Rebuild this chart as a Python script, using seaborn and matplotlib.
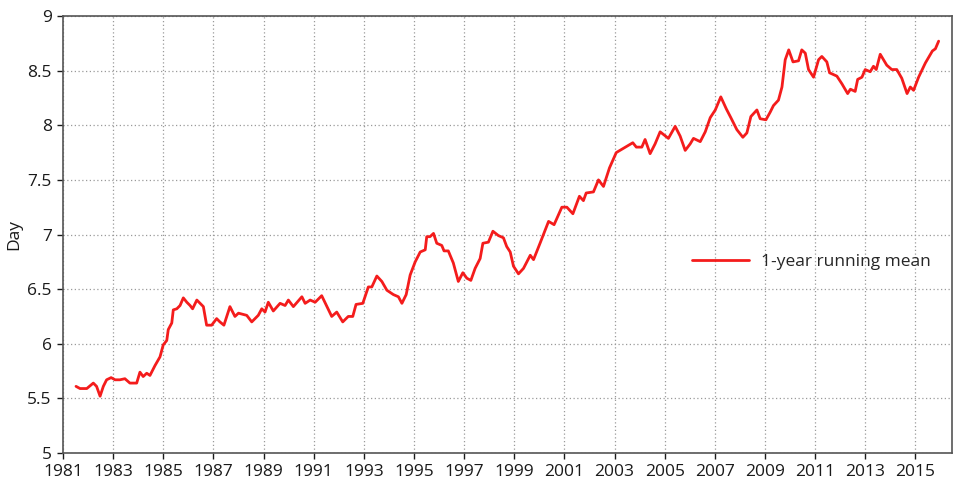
import numpy as np
import pandas as pd
import matplotlib
matplotlib.use("Agg")
import matplotlib.pyplot as plt
import seaborn as sns

# ─── Data ───────────────────────────────────────────────────────────────────
years = [
    1981.52, 1981.68, 1981.95, 1982.21, 1982.34, 1982.48, 1982.61, 1982.74, 1982.92, 1983.08,
    1983.27, 1983.47, 1983.67, 1983.94, 1984.07, 1984.20, 1984.34, 1984.47, 1984.67, 1984.87,
    1985.00, 1985.14, 1985.20, 1985.34, 1985.40, 1985.54, 1985.67, 1985.80, 1985.94, 1986.07,
    1986.17, 1986.34, 1986.47, 1986.60, 1986.73, 1986.93, 1987.13, 1987.26, 1987.42, 1987.66,
    1987.86, 1988.00, 1988.33, 1988.53, 1988.79, 1988.93, 1989.06, 1989.19, 1989.39, 1989.66,
    1989.86, 1989.99, 1990.19, 1990.53, 1990.66, 1990.86, 1991.06, 1991.32, 1991.72, 1991.92,
    1992.16, 1992.38, 1992.56, 1992.69, 1992.96, 1993.18, 1993.32, 1993.52, 1993.72, 1993.92,
    1994.18, 1994.38, 1994.52, 1994.69, 1994.85, 1995.05, 1995.25, 1995.45, 1995.51, 1995.64,
    1995.78, 1995.91, 1996.11, 1996.20, 1996.37, 1996.57, 1996.77, 1996.95, 1997.11, 1997.27,
    1997.44, 1997.64, 1997.75, 1997.97, 1998.15, 1998.37, 1998.57, 1998.70, 1998.84, 1998.97,
    1999.17, 1999.37, 1999.64, 1999.77, 2000.03, 2000.37, 2000.59, 2000.90, 2001.10, 2001.34,
    2001.60, 2001.76, 2001.87, 2002.16, 2002.36, 2002.56, 2002.80, 2003.07, 2003.36, 2003.73,
    2003.87, 2004.09, 2004.22, 2004.42, 2004.62, 2004.82, 2005.15, 2005.42, 2005.62, 2005.82,
    2006.02, 2006.15, 2006.42, 2006.62, 2006.82, 2007.02, 2007.24, 2007.46, 2007.64, 2007.88,
    2008.12, 2008.28, 2008.44, 2008.68, 2008.81, 2009.04, 2009.21, 2009.34, 2009.54, 2009.68,
    2009.81, 2009.95, 2010.12, 2010.34, 2010.47, 2010.61, 2010.74, 2010.94, 2011.14, 2011.27,
    2011.47, 2011.58, 2011.87, 2012.07, 2012.30, 2012.41, 2012.60, 2012.70, 2012.87, 2013.00,
    2013.20, 2013.33, 2013.44, 2013.60, 2013.86, 2014.06, 2014.26, 2014.46, 2014.67, 2014.80,
    2014.93, 2015.13, 2015.40, 2015.68, 2015.80, 2015.93,
]
days = [
    5.61, 5.59, 5.59, 5.64, 5.61, 5.52, 5.61, 5.67, 5.69, 5.67,
    5.67, 5.68, 5.64, 5.64, 5.74, 5.70, 5.73, 5.71, 5.80, 5.88,
    5.99, 6.03, 6.13, 6.19, 6.31, 6.32, 6.35, 6.42, 6.38, 6.35,
    6.32, 6.40, 6.37, 6.34, 6.17, 6.17, 6.23, 6.20, 6.17, 6.34,
    6.25, 6.28, 6.26, 6.20, 6.26, 6.32, 6.29, 6.38, 6.30, 6.37,
    6.35, 6.40, 6.34, 6.43, 6.37, 6.40, 6.38, 6.44, 6.25, 6.29,
    6.20, 6.25, 6.25, 6.36, 6.37, 6.52, 6.52, 6.62, 6.57, 6.49,
    6.45, 6.43, 6.37, 6.45, 6.63, 6.75, 6.84, 6.86, 6.98, 6.98,
    7.01, 6.92, 6.90, 6.85, 6.85, 6.74, 6.57, 6.65, 6.60, 6.58,
    6.69, 6.78, 6.92, 6.93, 7.03, 6.99, 6.97, 6.89, 6.84, 6.71,
    6.64, 6.69, 6.81, 6.77, 6.92, 7.12, 7.09, 7.25, 7.25, 7.19,
    7.35, 7.31, 7.38, 7.39, 7.50, 7.44, 7.61, 7.75, 7.79, 7.84,
    7.80, 7.80, 7.87, 7.74, 7.83, 7.94, 7.88, 7.99, 7.90, 7.77,
    7.83, 7.88, 7.85, 7.94, 8.07, 8.14, 8.26, 8.15, 8.07, 7.96,
    7.89, 7.93, 8.08, 8.14, 8.06, 8.05, 8.12, 8.18, 8.23, 8.35,
    8.60, 8.69, 8.58, 8.59, 8.69, 8.66, 8.51, 8.44, 8.60, 8.63,
    8.58, 8.48, 8.45, 8.38, 8.29, 8.33, 8.31, 8.42, 8.44, 8.51,
    8.49, 8.54, 8.51, 8.65, 8.55, 8.51, 8.51, 8.43, 8.29, 8.35,
    8.32, 8.44, 8.57, 8.68, 8.70, 8.77,
]
x_ticks = list(range(1981, 2017, 2))
y_ticks = [5, 5.5, 6, 6.5, 7, 7.5, 8, 8.5, 9]
series_label = "1-year running mean"

df = pd.DataFrame({"year": years, "day": days, "series": series_label})

# ─── Style ──────────────────────────────────────────────────────────────────
sns.set_style("ticks")
plt.rcParams["font.family"] = ["Open Sans", "DejaVu Sans"]

fig = plt.figure(figsize=(9.6, 4.96), dpi=100)
ax = fig.add_axes([0.0656, 0.0867, 0.926, 0.881])

sns.lineplot(data=df, x="year", y="day", hue="series",
             palette={series_label: "#f41c1c"}, linewidth=2.0, ax=ax)

ax.set_xlim(1981, 2016.46)
ax.set_ylim(5, 9)
ax.set_xticks(x_ticks)
ax.set_yticks(y_ticks)
ax.set_yticklabels([f"{v:g}" for v in y_ticks])
ax.set_xlabel("")
ax.set_ylabel("Day", fontsize=12.5, color="#1a1a1a", labelpad=4)
ax.tick_params(labelsize=12.5, colors="#1a1a1a", length=4, width=1, pad=4)

ax.grid(True, linestyle=(0, (1, 2)), color="#9a9a9a", linewidth=0.9)
for side in ["top", "right", "left", "bottom"]:
    ax.spines[side].set_visible(True)
    ax.spines[side].set_color("#555555")
    ax.spines[side].set_linewidth(1.2)

ax.legend(loc="center left", bbox_to_anchor=(0.69, 0.437), frameon=False,
          fontsize=12.5, handlelength=3.3, handletextpad=0.7, title=None)

fig.savefig("out.png", dpi=100)
